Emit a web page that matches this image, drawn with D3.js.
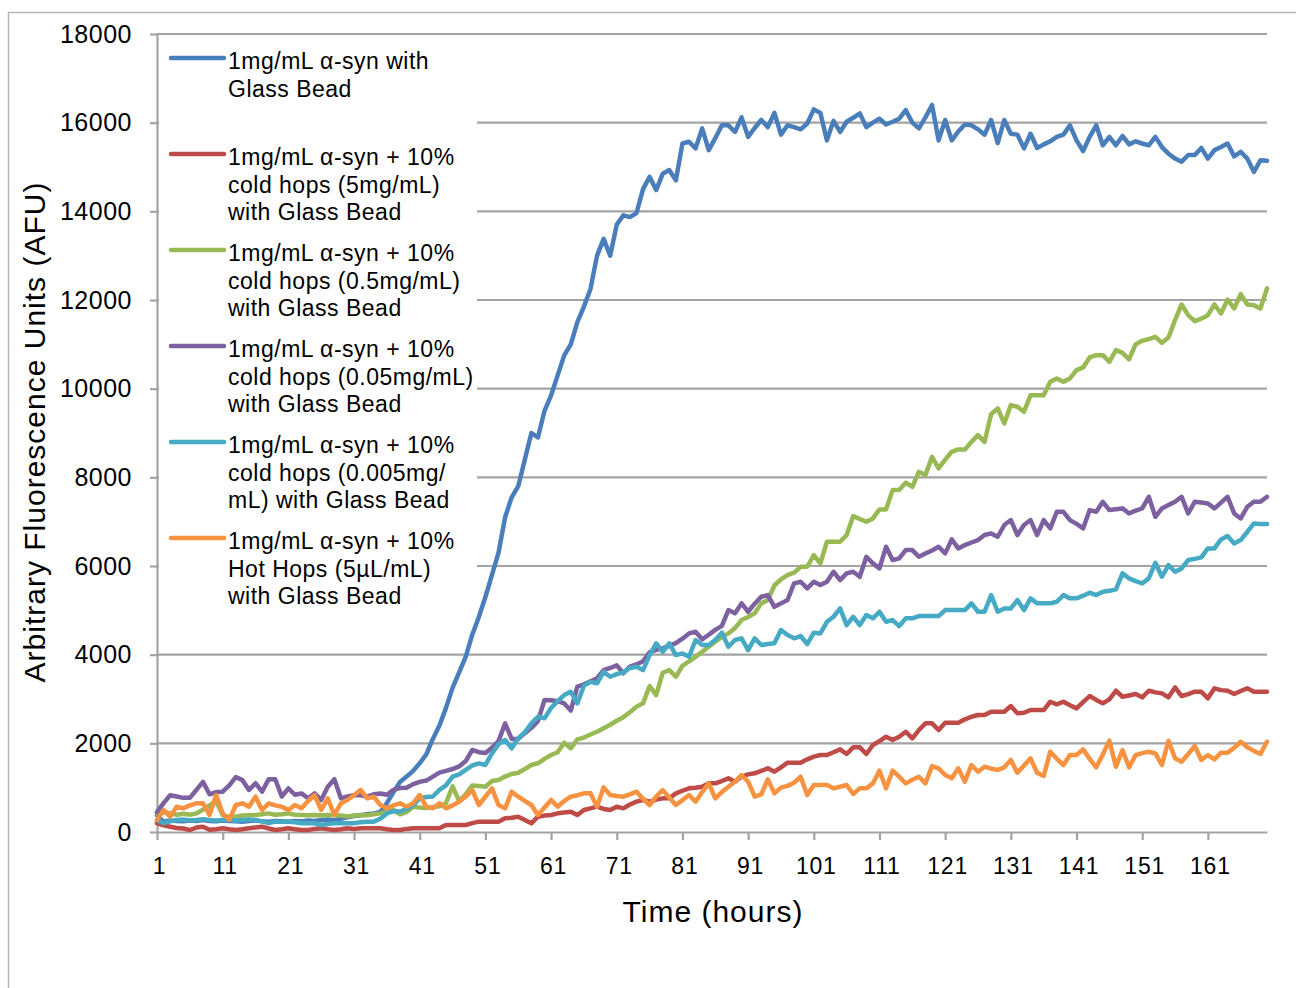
<!DOCTYPE html>
<html>
<head>
<meta charset="utf-8">
<script src="https://cdn.jsdelivr.net/npm/d3@7"></script>
<style>
  html, body { margin: 0; padding: 0; background: #fff; }
  svg text { font-family: "Liberation Sans", Arial, sans-serif; fill: #000; }
</style>
</head>
<body>
<div id="paper"></div>
<script>
// thioflavin-style fluorescence curves, one value per hour (1..170)

const seriesNames = [
  "1mg/mL α-syn with Glass Bead",
  "1mg/mL α-syn + 10% cold hops (5mg/mL) with Glass Bead",
  "1mg/mL α-syn + 10% cold hops (0.5mg/mL) with Glass Bead",
  "1mg/mL α-syn + 10% cold hops (0.05mg/mL) with Glass Bead",
  "1mg/mL α-syn + 10% cold hops (0.005mg/mL) with Glass Bead",
  "1mg/mL α-syn + 10% Hot Hops (5µL/mL) with Glass Bead"
];

// legend text, wrapped the way the original shows it
const legendLines = [
  ["1mg/mL α-syn with", "Glass Bead"],
  ["1mg/mL α-syn + 10%", "cold hops (5mg/mL)", "with Glass Bead"],
  ["1mg/mL α-syn + 10%", "cold hops (0.5mg/mL)", "with Glass Bead"],
  ["1mg/mL α-syn + 10%", "cold hops (0.05mg/mL)", "with Glass Bead"],
  ["1mg/mL α-syn + 10%", "cold hops (0.005mg/", "mL) with Glass Bead"],
  ["1mg/mL α-syn + 10%", "Hot Hops (5µL/mL)", "with Glass Bead"]
];

const colours = ["#4A7EBB", "#BE4B48", "#98B954", "#7D60A0", "#46AAC5", "#F69240"];

const glassBead = [
  380, 230, 260, 250, 240, 260, 250, 270, 250, 240,
  260, 250, 240, 230, 250, 260, 240, 230, 250, 240,
  230, 250, 240, 260, 250, 270, 280, 260, 300, 330,
  360, 380, 400, 420, 450, 650, 900, 1130, 1250, 1380,
  1550, 1750, 2100, 2400, 2800, 3250, 3600, 3950, 4450, 4850,
  5300, 5800, 6300, 7100, 7550, 7800, 8400, 9000, 8900, 9500,
  9850, 10300, 10750, 11000, 11500, 11850, 12250, 13000, 13380, 13000,
  13700, 13910, 13870, 13960, 14500, 14780, 14480, 14850, 14930, 14700,
  15530, 15570, 15420, 15870, 15380, 15650, 15940, 15940, 15790, 16120,
  15680, 15880, 16060, 15900, 16220, 15730, 15940, 15900, 15850, 15980,
  16300, 16220, 15600, 16040, 15790, 16020, 16110, 16210, 15900, 16000,
  16090, 15960, 16020, 16090, 16280, 16000, 15870, 16120, 16400, 15600,
  16060, 15600, 15800, 15960, 15940, 15850, 15730, 16060, 15540, 16060,
  15750, 15730, 15420, 15750, 15430, 15510, 15580, 15680, 15730, 15940,
  15600, 15360, 15680, 15940, 15490, 15680, 15490, 15700, 15510, 15580,
  15530, 15490, 15680, 15450, 15300, 15190, 15120, 15270, 15270, 15430,
  15190, 15380, 15450, 15530, 15240, 15340, 15190, 14890, 15150, 15140
];

const coldHops5 = [
  200, 150, 120, 90, 80, 45, 100, 120, 50, 60,
  83, 60, 45, 60, 83, 100, 120, 80, 45, 60,
  83, 60, 45, 45, 70, 83, 60, 45, 60, 83,
  70, 83, 83, 83, 83, 60, 45, 45, 70, 83,
  83, 83, 83, 83, 158, 158, 158, 158, 200, 233,
  233, 233, 233, 308, 320, 346, 270, 195, 346, 370,
  383, 421, 440, 459, 383, 496, 534, 571, 520, 496,
  571, 534, 620, 684, 722, 684, 730, 759, 760, 872,
  930, 985, 1000, 1022, 1097, 1097, 1150, 1210, 1134, 1250,
  1300, 1323, 1380, 1436, 1360, 1460, 1563, 1563, 1563, 1640,
  1700, 1736, 1736, 1800, 1864, 1759, 1910, 1910, 1759, 1962,
  2050, 2149, 2075, 2149, 2262, 2113, 2300, 2451, 2451, 2300,
  2465, 2465, 2465, 2541, 2600, 2638, 2638, 2713, 2713, 2713,
  2841, 2676, 2690, 2751, 2751, 2751, 2938, 2879, 2938, 2860,
  2789, 2930, 3067, 2980, 2902, 2992, 3186, 3051, 3080, 3112,
  3037, 3186, 3150, 3127, 3037, 3262, 3067, 3110, 3164, 3164,
  3015, 3240, 3200, 3186, 3112, 3180, 3240, 3164, 3164, 3164
];

const coldHops05 = [
  420, 450, 420, 390, 410, 390, 420, 500, 600, 700,
  380, 340, 350, 370, 380, 385, 400, 420, 390, 400,
  420, 390, 385, 380, 385, 380, 385, 380, 370, 350,
  370, 385, 380, 400, 420, 460, 500, 400, 450, 570,
  550, 540, 560, 580, 650, 1030, 700, 850, 1050, 1040,
  1020, 1150, 1172, 1250, 1310, 1338, 1420, 1511, 1550, 1650,
  1736, 1800, 2014, 1887, 2090, 2130, 2200, 2262, 2340, 2420,
  2510, 2590, 2700, 2826, 2902, 3292, 3089, 3592, 3653, 3502,
  3750, 3850, 3950, 4066, 4180, 4291, 4400, 4480, 4600, 4781,
  4850, 4932, 5157, 5232, 5560, 5700, 5795, 5850, 5983, 5983,
  6246, 6059, 6547, 6547, 6547, 6698, 7126, 7060, 6997, 7074,
  7277, 7277, 7712, 7712, 7877, 7787, 8125, 8050, 8463, 8201,
  8400, 8576, 8630, 8630, 8800, 8952, 8801, 9426, 9554, 9216,
  9629, 9591, 9478, 9854, 9854, 9854, 10154, 10231, 10154, 10231,
  10418, 10479, 10704, 10756, 10756, 10605, 10869, 10809, 10659, 11004,
  11079, 11120, 11169, 11034, 11155, 11546, 11899, 11658, 11523, 11580,
  11658, 11899, 11696, 12012, 11809, 12132, 11899, 11884, 11809, 12261
];

const coldHops005 = [
  450, 650, 830, 800, 770, 770, 950, 1130, 850, 900,
  910, 1050, 1240, 1170, 950, 1100, 910, 1190, 1190, 800,
  985, 840, 870, 760, 870, 720, 1020, 1190, 760, 800,
  830, 830, 800, 850, 870, 840, 950, 990, 1000, 1080,
  1130, 1160, 1250, 1340, 1380, 1420, 1480, 1600, 1850, 1800,
  1780, 1900, 2050, 2450, 2100, 2100, 2230, 2350, 2500, 2980,
  2970, 2950, 2900, 2740, 3280, 3330, 3400, 3470, 3650, 3700,
  3760, 3580, 3730, 3780, 3850, 4050, 4110, 4140, 4200, 4260,
  4360, 4480, 4517, 4346, 4450, 4560, 4650, 5006, 4932, 5157,
  4968, 5150, 5306, 5344, 5080, 5157, 5232, 5608, 5645, 5495,
  5645, 5570, 5645, 5870, 5683, 5833, 5870, 5757, 6208, 6059,
  5946, 6434, 6134, 6172, 6359, 6359, 6208, 6284, 6350, 6434,
  6284, 6600, 6397, 6472, 6530, 6585, 6698, 6735, 6660, 6923,
  7036, 6698, 6923, 7036, 6698, 7036, 6848, 7223, 7223, 7036,
  6950, 6848, 7261, 7223, 7448, 7261, 7280, 7299, 7186, 7250,
  7299, 7561, 7110, 7299, 7374, 7450, 7561, 7186, 7448, 7430,
  7411, 7299, 7430, 7561, 7186, 7073, 7336, 7448, 7448, 7561
];

const coldHops0005 = [
  270, 200, 240, 270, 280, 260, 270, 290, 270, 260,
  270, 280, 260, 270, 280, 270, 240, 200, 233, 233,
  233, 220, 196, 196, 196, 158, 180, 196, 196, 196,
  200, 220, 233, 233, 300, 420, 470, 460, 520, 600,
  760, 790, 800, 950, 1050, 1247, 1300, 1400, 1500, 1549,
  1511, 1774, 1980, 2075, 1887, 2113, 2250, 2450, 2600, 2564,
  2800, 2950, 3089, 3164, 2902, 3300, 3390, 3353, 3615, 3502,
  3560, 3600, 3700, 3728, 3653, 3991, 4255, 4066, 4255, 3991,
  4029, 3953, 4330, 4217, 4217, 4330, 4495, 4179, 4330, 4368,
  4104, 4368, 4217, 4240, 4255, 4555, 4442, 4368, 4420, 4240,
  4495, 4480, 4742, 4855, 5044, 4668, 4855, 4668, 4893, 4819,
  4968, 4742, 4781, 4645, 4819, 4819, 4871, 4871, 4871, 4871,
  5006, 5006, 5006, 5006, 5157, 4968, 4968, 5344, 4968, 5044,
  5044, 5232, 5006, 5270, 5157, 5157, 5157, 5193, 5344, 5270,
  5270, 5330, 5397, 5344, 5419, 5440, 5473, 5833, 5721, 5660,
  5608, 5721, 6073, 5757, 6021, 5870, 5946, 6134, 6160, 6194,
  6397, 6397, 6600, 6675, 6510, 6585, 6772, 6961, 6950, 6945
];

const hotHops = [
  271, 496, 346, 571, 534, 600, 647, 647, 383, 834,
  421, 271, 609, 647, 571, 796, 496, 647, 600, 571,
  496, 609, 534, 700, 834, 496, 759, 383, 647, 722,
  830, 947, 759, 796, 609, 534, 600, 647, 571, 650,
  834, 571, 534, 647, 534, 600, 684, 800, 947, 609,
  800, 985, 609, 534, 909, 796, 700, 609, 383, 550,
  722, 571, 700, 796, 830, 872, 872, 571, 1007, 834,
  810, 796, 850, 909, 750, 609, 800, 947, 780, 609,
  720, 834, 684, 900, 1097, 759, 900, 1022, 1134, 1285,
  1134, 796, 850, 1187, 872, 1000, 1040, 1112, 1247, 834,
  1060, 1060, 1060, 985, 1020, 1060, 857, 985, 985, 1097,
  1383, 985, 1383, 1247, 1097, 1180, 1247, 1097, 1488, 1436,
  1285, 1211, 1436, 1134, 1511, 1360, 1473, 1430, 1398, 1459,
  1624, 1337, 1500, 1662, 1337, 1263, 1811, 1650, 1511, 1736,
  1736, 1864, 1650, 1459, 1750, 2059, 1473, 1849, 1459, 1736,
  1780, 1811, 1774, 1511, 2059, 1662, 1586, 1760, 1939, 1624,
  1736, 1639, 1789, 1789, 1900, 2036, 1910, 1830, 1759, 2036
];

const allSeries = [glassBead, coldHops5, coldHops05, coldHops005, coldHops0005, hotHops];

const hours = d3.range(1, glassBead.length + 1);
const xTicks = d3.range(1, 170, 10);          // 1, 11, ... 161
const yTicks = d3.range(0, 18001, 2000);

const W = 1296, H = 988;
const plotLeft = 157, plotRight = 1267, plotTop = 34, plotBottom = 832;
const grey = "#a3a3a3";
const fontFam = "'Liberation Sans', Arial, sans-serif";

const svg = d3.select("#paper")
  .append("svg")
  .attr("width", W)
  .attr("height", H)
  .style("display", "block")
  .style("background", "#fff");

// outer chart border (only left and top edges fall inside the picture)
svg.append("rect")
  .attr("x", 8.5).attr("y", 12.5)
  .attr("width", 1400).attr("height", 1100)
  .attr("fill", "none")
  .attr("stroke", "#b5b5b5")
  .attr("stroke-width", 1.5);

const x = d3.scaleLinear().domain([1, 170]).range([plotLeft, plotRight]);
const y = d3.scaleLinear().domain([0, 18000]).range([plotBottom, plotTop]);

// gridlines
svg.append("g")
  .selectAll("line")
  .data(yTicks.filter(d => d > 0))
  .join("line")
  .attr("x1", plotLeft).attr("x2", plotRight)
  .attr("y1", d => y(d)).attr("y2", d => y(d))
  .attr("stroke", grey)
  .attr("stroke-width", 2.2);

// y axis
const yAxis = svg.append("g")
  .attr("transform", `translate(${plotLeft},0)`)
  .call(d3.axisLeft(y).tickValues(yTicks).tickSize(7).tickSizeOuter(0).tickPadding(18).tickFormat(d3.format("d")));
yAxis.select(".domain").attr("stroke", grey).attr("stroke-width", 2.2);
yAxis.selectAll(".tick line").attr("stroke", grey).attr("stroke-width", 2.2);
yAxis.selectAll(".tick text")
  .style("font-family", fontFam)
  .style("font-size", "25px")
  .style("letter-spacing", "0.5px")
  .attr("fill", "#000");

// x axis
const xAxis = svg.append("g")
  .attr("transform", `translate(0,${plotBottom})`)
  .call(d3.axisBottom(x).tickValues(xTicks).tickSize(8).tickSizeOuter(0).tickPadding(18).tickFormat(d3.format("d")));
xAxis.select(".domain").attr("stroke", grey).attr("stroke-width", 2.2);
xAxis.selectAll(".tick line").attr("stroke", grey).attr("stroke-width", 2.2);
xAxis.selectAll(".tick text")
  .attr("dx", 2)
  .style("font-family", fontFam)
  .style("font-size", "23px")
  .style("letter-spacing", "0.8px")
  .attr("fill", "#000");

// series lines
const line = d3.line()
  .x((d, i) => x(hours[i]))
  .y(d => y(d));

svg.append("g")
  .selectAll("path")
  .data(allSeries)
  .join("path")
  .attr("d", line)
  .attr("fill", "none")
  .attr("stroke", (d, i) => colours[i])
  .attr("stroke-width", 4.5)
  .attr("stroke-linejoin", "round")
  .attr("stroke-linecap", "round");

// legend with white box over the gridlines
const legend = svg.append("g");
legend.append("rect")
  .attr("x", 159).attr("y", 40)
  .attr("width", 318).attr("height", 572)
  .attr("fill", "#fff");

const entries = legend.selectAll("g.entry")
  .data(legendLines)
  .join("g")
  .attr("class", "entry")
  .attr("transform", (d, i) => `translate(0,${58 + i * 96})`);

entries.append("line")
  .attr("x1", 171).attr("x2", 224)
  .attr("y1", 0).attr("y2", 0)
  .attr("stroke", (d, i) => colours[i])
  .attr("stroke-width", 4.5)
  .attr("stroke-linecap", "round");

entries.append("text")
  .attr("x", 228)
  .attr("y", 11.3)
  .style("font-size", "23px")
  .style("letter-spacing", "0.5px")
  .selectAll("tspan")
  .data(d => d)
  .join("tspan")
  .attr("x", 228)
  .attr("dy", (d, i) => i === 0 ? 0 : 27.3)
  .text(d => d);

// axis titles
svg.append("text")
  .attr("x", 713).attr("y", 922)
  .attr("text-anchor", "middle")
  .style("font-size", "30px")
  .style("letter-spacing", "1px")
  .text("Time (hours)");

svg.append("text")
  .attr("transform", "translate(45,432) rotate(-90)")
  .attr("text-anchor", "middle")
  .style("font-size", "30px")
  .style("letter-spacing", "1px")
  .text("Arbitrary Fluorescence Units (AFU)");
</script>
</body>
</html>
